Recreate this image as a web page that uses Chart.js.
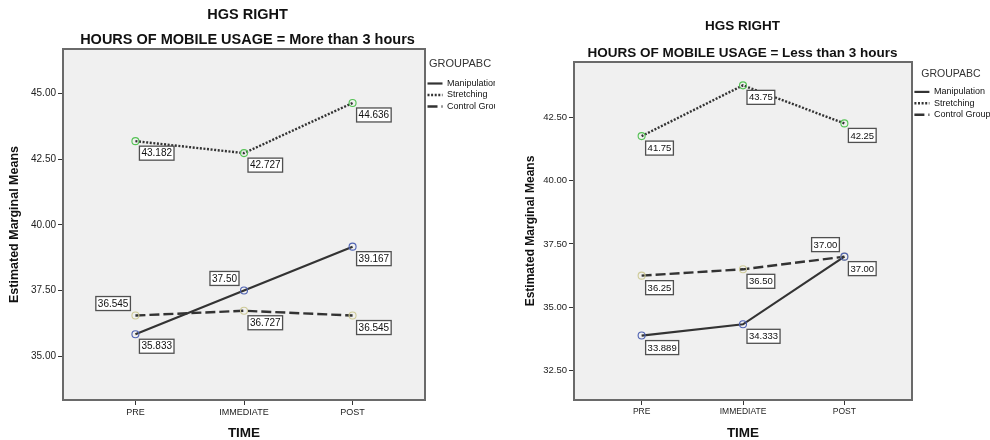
<!DOCTYPE html>
<html>
<head>
<meta charset="utf-8">
<script src="https://cdn.jsdelivr.net/npm/chart.js@4"></script>
<style>
  body { margin: 0; background: #fff; }
  #wrap { position: relative; width: 990px; height: 440px; overflow: hidden; }
  canvas { position: absolute; top: 0; }
</style>
</head>
<body>
<div id="wrap">
  <canvas id="more" width="495" height="440" style="left:0"></canvas>
  <canvas id="less" width="495" height="440" style="left:495px"></canvas>
</div>
<script>
// data
var timePoints = ['PRE', 'IMMEDIATE', 'POST'];
var groups = ['Manipulation', 'Stretching', 'Control Group'];

var moreManipulation = [35.833, 37.50, 39.167];
var moreStretching = [43.182, 42.727, 44.636];
var moreControl = [36.545, 36.727, 36.545];
var moreTicks = [35.00, 37.50, 40.00, 42.50, 45.00];

var lessManipulation = [33.889, 34.333, 37.00];
var lessStretching = [41.75, 43.75, 42.25];
var lessControl = [36.25, 36.50, 37.00];
var lessTicks = [32.50, 35.00, 37.50, 40.00, 42.50];

var mainTitle = 'HGS RIGHT';
var moreTitle = 'HOURS OF MOBILE USAGE = More than 3 hours';
var lessTitle = 'HOURS OF MOBILE USAGE = Less than 3 hours';

// styling per group: line dash and marker colour
var lineColor = '#333';
var groupStyle = [
  { dash: [], width: 2.2, marker: '#4f63b3' },
  { dash: [2, 1.6], width: 2.4, marker: '#55c255' },
  { dash: [10, 4], width: 2.4, marker: '#cfcb98' }
];

// where each value box sits relative to its point: 'br' below right, 'tl' above left
var moreLabelSide = [['br', 'tl', 'br'], ['br', 'br', 'br'], ['tl', 'br', 'br']];
var lessLabelSide = [['br', 'br', 'br'], ['br', 'br', 'br'], ['br', 'br', 'tl']];

function fmt(v) {
  var s = v.toFixed(3);
  if (s.charAt(s.length - 1) === '0') s = s.slice(0, -1);
  return s;
}

var framePlugin = {
  id: 'frame',
  beforeDatasetsDraw: function(chart) {
    var a = chart.chartArea, ctx = chart.ctx;
    ctx.save();
    ctx.fillStyle = '#f0f0f0';
    ctx.fillRect(a.left, a.top, a.right - a.left, a.bottom - a.top);
    ctx.strokeStyle = '#6a6a6a';
    ctx.lineWidth = 2;
    ctx.strokeRect(a.left, a.top, a.right - a.left, a.bottom - a.top);
    ctx.restore();
  }
};

var valueBoxPlugin = {
  id: 'valueBoxes',
  afterDatasetsDraw: function(chart, args, opts) {
    var ctx = chart.ctx;
    ctx.save();
    ctx.font = opts.size + 'px "Liberation Sans", Arial, sans-serif';
    ctx.textBaseline = 'middle';
    ctx.textAlign = 'left';
    chart.data.datasets.forEach(function(ds, di) {
      chart.getDatasetMeta(di).data.forEach(function(pt, i) {
        var txt = fmt(ds.data[i].y);
        var w = ctx.measureText(txt).width + 4, h = 14;
        var bx, by;
        if (opts.sides[di][i] === 'tl') {
          bx = pt.x - 5 - w; by = pt.y - 5 - h;
        } else {
          bx = pt.x + 4; by = pt.y + 5;
        }
        ctx.fillStyle = '#fff';
        ctx.fillRect(bx, by, w, h);
        ctx.strokeStyle = '#505050';
        ctx.lineWidth = 1.3;
        ctx.strokeRect(bx, by, w, h);
        ctx.fillStyle = '#111';
        ctx.fillText(txt, bx + 2, by + h / 2 + 0.5);
      });
    });
    ctx.restore();
  }
};

// legend entries show the line style, not the marker colour
function legend_labels(chart) {
  var items = Chart.defaults.plugins.legend.labels.generateLabels(chart);
  items.forEach(function(it) {
    var st = groupStyle[it.datasetIndex];
    it.strokeStyle = lineColor;
    it.fillStyle = lineColor;
    it.lineWidth = st.width;
    it.lineDash = st.dash;
    it.pointStyle = 'line';
  });
  return items;
}

function make_chart(id, series, ticks, subtitle, lay) {
  var datasets = series.map(function(vals, gi) {
    return {
      label: groups[gi],
      data: vals.map(function(v, i) { return { x: i, y: v }; }),
      borderColor: lineColor,
      borderWidth: groupStyle[gi].width,
      borderDash: groupStyle[gi].dash,
      pointRadius: 3.5,
      pointBorderWidth: 1.1,
      pointBorderColor: groupStyle[gi].marker,
      pointBackgroundColor: 'rgba(0,0,0,0)',
      tension: 0,
      fill: false
    };
  });

  return new Chart(document.getElementById(id), {
    type: 'line',
    data: { datasets: datasets },
    plugins: [framePlugin, valueBoxPlugin],
    options: {
      responsive: false,
      animation: false,
      events: [],
      layout: { padding: 0 },
      scales: {
        x: {
          type: 'linear',
          min: -0.667,
          max: 2.667,
          afterBuildTicks: function(scale) {
            scale.ticks = timePoints.map(function(t, i) { return { value: i }; });
          },
          afterFit: function(scale) { scale.height = lay.xHeight; },
          ticks: {
            callback: function(v) { return timePoints[v]; },
            font: { family: '"Liberation Sans", Arial, sans-serif', size: lay.xTickSize },
            color: '#222',
            padding: 2,
            maxRotation: 0
          },
          grid: { drawOnChartArea: false, drawTicks: true, tickLength: 5, tickColor: '#333', tickWidth: 1 },
          border: { display: false },
          title: {
            display: true,
            text: 'TIME',
            font: { family: '"Liberation Sans", Arial, sans-serif', size: lay.axisTitleSize, weight: 'bold', lineHeight: 1 },
            color: '#111',
            padding: { top: 0, bottom: 0 }
          }
        },
        y: {
          min: lay.yMin,
          max: lay.yMax,
          afterBuildTicks: function(scale) {
            scale.ticks = ticks.map(function(v) { return { value: v }; });
          },
          afterFit: function(scale) { scale.width = lay.yWidth; },
          ticks: {
            callback: function(v) { return v.toFixed(2); },
            font: { family: '"Liberation Sans", Arial, sans-serif', size: lay.yTickSize },
            color: '#222',
            padding: 2
          },
          grid: { drawOnChartArea: false, drawTicks: true, tickLength: 5, tickColor: '#333', tickWidth: 1 },
          border: { display: false },
          title: {
            display: true,
            text: 'Estimated Marginal Means',
            font: { family: '"Liberation Sans", Arial, sans-serif', size: lay.yTitleSize, weight: 'bold', lineHeight: 1 },
            color: '#111',
            padding: { top: lay.yTitlePad, bottom: 0 }
          }
        }
      },
      plugins: {
        title: {
          display: true,
          text: mainTitle,
          color: '#111',
          font: { family: '"Liberation Sans", Arial, sans-serif', size: lay.titleSize, weight: 'bold', lineHeight: 1 },
          padding: { top: lay.titleTop, bottom: 0 }
        },
        subtitle: {
          display: true,
          text: subtitle,
          color: '#111',
          font: { family: '"Liberation Sans", Arial, sans-serif', size: lay.titleSize, weight: 'bold', lineHeight: 1 },
          padding: { top: lay.subTop, bottom: lay.subBottom }
        },
        legend: {
          position: 'right',
          align: 'start',
          fullSize: false,
          maxWidth: lay.legendWidth,
          title: {
            display: true,
            text: 'GROUPABC',
            color: '#333',
            position: 'center',
            font: { family: '"Liberation Sans", Arial, sans-serif', size: lay.legendTitleSize, lineHeight: 1 },
            padding: { top: lay.legendTitleTop, bottom: lay.legendTitleBottom }
          },
          labels: {
            usePointStyle: true,
            pointStyle: 'line',
            pointStyleWidth: 15,
            padding: lay.legendGap,
            color: '#111',
            generateLabels: legend_labels,
            font: { family: '"Liberation Sans", Arial, sans-serif', size: lay.legendSize }
          }
        },
        tooltip: { enabled: false },
        valueBoxes: { sides: lay.sides, size: lay.boxSize }
      }
    }
  });
}

make_chart('more', [moreManipulation, moreStretching, moreControl], moreTicks, moreTitle, {
  yMin: 33.33, yMax: 46.69, yWidth: 63, xHeight: 40, legendWidth: 70,
  yTickSize: 10, xTickSize: 9, axisTitleSize: 13.5, yTitleSize: 12.5, yTitlePad: 8.5,
  titleSize: 14.5, titleTop: 7.8, subTop: 10.5, subBottom: 1.7,
  legendTitleSize: 11, legendTitleTop: 9.5, legendTitleBottom: 7, legendSize: 9, legendGap: 2.5,
  sides: moreLabelSide, boxSize: 10
});

make_chart('less', [lessManipulation, lessStretching, lessControl], lessTicks, lessTitle, {
  yMin: 31.35, yMax: 44.67, yWidth: 79, xHeight: 40, legendWidth: 78,
  yTickSize: 9.5, xTickSize: 8.5, axisTitleSize: 13.5, yTitleSize: 12, yTitlePad: 30,
  titleSize: 13.5, titleTop: 19.2, subTop: 13.5, subBottom: 2.3,
  legendTitleSize: 10.5, legendTitleTop: 7, legendTitleBottom: 5.5, legendSize: 9, legendGap: 2.4,
  sides: lessLabelSide, boxSize: 9.5
});
</script>
</body>
</html>
